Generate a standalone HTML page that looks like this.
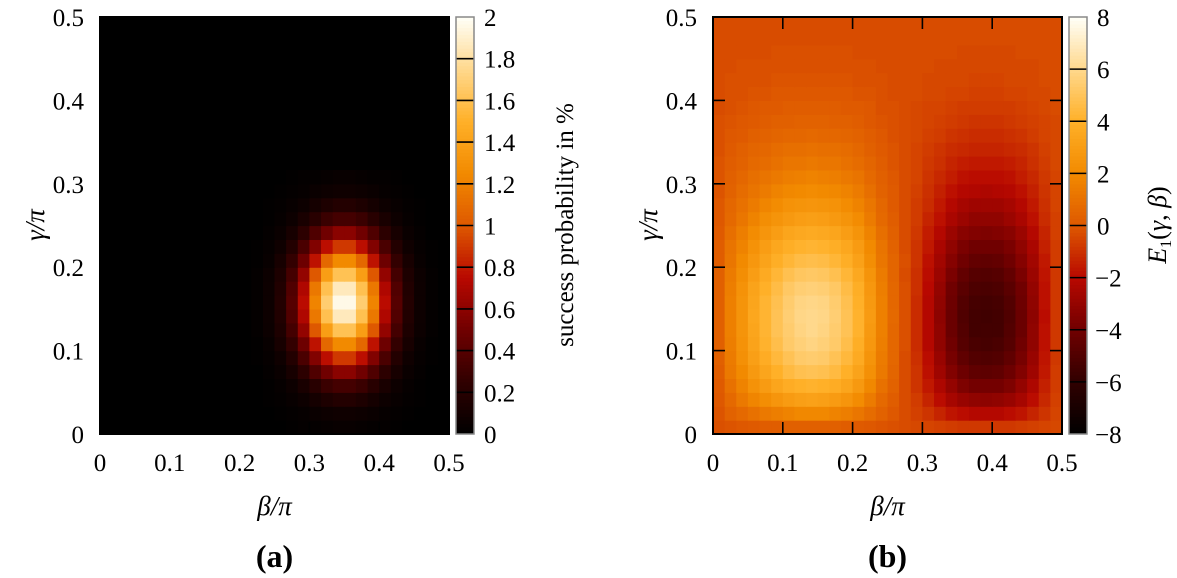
<!DOCTYPE html>
<html><head><meta charset="utf-8">
<style>
html,body{margin:0;padding:0;background:#fff;}
svg{display:block;font-family:"Liberation Serif","DejaVu Serif",serif;}
</style></head>
<body>
<svg id="fig" width="1177" height="578" viewBox="0 0 1177 578">
</svg>
<script>
// ---- data ----
const betaTicks = [0, 0.1, 0.2, 0.3, 0.4, 0.5];
const gammaTicks = [0, 0.1, 0.2, 0.3, 0.4, 0.5];
const probTicks = [0, 0.2, 0.4, 0.6, 0.8, 1, 1.2, 1.4, 1.6, 1.8, 2];
const energyTicks = [-8, -6, -4, -2, 0, 2, 4, 6, 8];
const nCols = 30, nRows = 30;
// panel (a): success probability (%), rows from gamma=0 (bottom) upward, sparse: columns 13..28
const probRows = [
 [0,0,0,.01,.02,.02,.03,.04,.04,.03,.02,.02,.01,0,0,0],
 [0,0,.01,.02,.03,.05,.07,.08,.08,.07,.05,.03,.02,.01,0,0],
 [0,.01,.02,.04,.07,.11,.15,.18,.18,.15,.11,.07,.04,.02,.01,0],
 [0,.01,.03,.07,.13,.21,.29,.33,.33,.29,.21,.13,.07,.03,.01,0],
 [0,.02,.05,.12,.23,.37,.5,.59,.59,.5,.37,.23,.12,.05,.02,0],
 [.01,.03,.08,.18,.35,.56,.77,.9,.9,.77,.56,.35,.18,.08,.03,.01],
 [.01,.04,.12,.26,.49,.78,1.08,1.25,1.25,1.08,.78,.49,.26,.12,.04,.01],
 [.02,.06,.15,.33,.62,1.0,1.38,1.61,1.61,1.38,1.0,.62,.33,.15,.06,.02],
 [.02,.07,.17,.38,.72,1.16,1.6,1.86,1.86,1.6,1.16,.72,.38,.17,.07,.02],
 [.02,.07,.18,.4,.76,1.22,1.68,1.96,1.96,1.68,1.22,.76,.4,.18,.07,.02],
 [.02,.07,.17,.38,.72,1.16,1.6,1.86,1.86,1.6,1.16,.72,.38,.17,.07,.02],
 [.02,.06,.15,.33,.62,1.0,1.38,1.61,1.61,1.38,1.0,.62,.33,.15,.06,.02],
 [.01,.04,.12,.26,.49,.78,1.08,1.25,1.25,1.08,.78,.49,.26,.12,.04,.01],
 [.01,.03,.08,.18,.35,.56,.77,.9,.9,.77,.56,.35,.18,.08,.03,.01],
 [0,.02,.05,.12,.23,.37,.5,.59,.59,.5,.37,.23,.12,.05,.02,0],
 [0,.01,.03,.07,.13,.21,.29,.33,.33,.29,.21,.13,.07,.03,.01,0],
 [0,.01,.02,.04,.07,.11,.15,.18,.18,.15,.11,.07,.04,.02,.01,0],
 [0,0,.01,.02,.03,.05,.07,.08,.08,.07,.05,.03,.02,.01,0,0],
 [0,0,0,.01,.02,.02,.03,.04,.04,.03,.02,.02,.01,0,0,0]
];
const probColStart = 13;
// panel (b): E1(gamma,beta), rows from gamma=0 (bottom) upward, 30 columns
const energyRows = [
 [-0.2,-0.1,0,0.1,0.2,0.2,0.3,0.3,0.3,0.3,0.3,0.2,0.1,0,-0.1,-0.2,-0.3,-0.4,-0.5,-0.6,-0.7,-0.8,-0.8,-0.8,-0.8,-0.8,-0.7,-0.6,-0.5,-0.4],
 [-0.1,0.4,0.7,1.0,1.3,1.5,1.7,1.9,1.9,1.9,1.7,1.5,1.2,0.8,0.4,0,-0.3,-0.6,-0.9,-1.3,-1.7,-1.9,-2.1,-2.1,-2.1,-1.9,-1.7,-1.3,-0.9,-0.5],
 [0,0.7,1.3,1.8,2.2,2.6,2.9,3.1,3.2,3.1,2.9,2.6,2.1,1.4,0.7,0.2,-0.3,-0.7,-1.3,-1.9,-2.5,-2.9,-3.1,-3.2,-3.1,-2.9,-2.5,-1.9,-1.2,-0.6],
 [0.1,1.0,1.7,2.4,2.9,3.4,3.8,4.0,4.1,4.0,3.8,3.4,2.8,1.9,1.0,0.4,-0.3,-0.9,-1.6,-2.3,-3.0,-3.6,-3.9,-3.9,-3.9,-3.6,-3.0,-2.3,-1.4,-0.7],
 [0.2,1.3,2.0,2.8,3.4,4.0,4.5,4.8,4.9,4.8,4.5,4.0,3.3,2.3,1.3,0.5,-0.3,-0.9,-1.8,-2.7,-3.5,-4.1,-4.5,-4.6,-4.5,-4.1,-3.5,-2.7,-1.6,-0.7],
 [0.3,1.4,2.3,3.1,3.8,4.4,4.9,5.3,5.4,5.3,4.9,4.4,3.7,2.5,1.4,0.6,-0.3,-1.0,-1.9,-2.9,-3.8,-4.5,-4.9,-5.0,-4.9,-4.5,-3.8,-2.9,-1.7,-0.8],
 [0.3,1.5,2.4,3.3,4.1,4.7,5.3,5.6,5.8,5.6,5.3,4.7,3.9,2.7,1.5,0.6,-0.2,-1.1,-2.1,-3.1,-4.0,-4.8,-5.2,-5.3,-5.2,-4.8,-4.0,-3.1,-1.8,-0.8],
 [0.3,1.6,2.5,3.4,4.2,4.9,5.4,5.8,6.0,5.8,5.4,4.9,4.1,2.8,1.6,0.6,-0.2,-1.1,-2.1,-3.1,-4.2,-4.9,-5.4,-5.4,-5.4,-4.9,-4.2,-3.1,-1.8,-0.8],
 [0.3,1.6,2.5,3.5,4.2,4.9,5.5,5.9,6.0,5.9,5.5,4.9,4.1,2.9,1.6,0.7,-0.2,-1.1,-2.1,-3.2,-4.2,-5.0,-5.4,-5.5,-5.4,-5.0,-4.2,-3.2,-1.9,-0.8],
 [0.3,1.6,2.5,3.4,4.2,4.8,5.4,5.8,5.9,5.8,5.4,4.8,4.0,2.8,1.6,0.6,-0.2,-1.1,-2.1,-3.1,-4.1,-4.9,-5.3,-5.4,-5.3,-4.9,-4.1,-3.1,-1.8,-0.8],
 [0.3,1.5,2.4,3.3,4.0,4.6,5.2,5.5,5.6,5.5,5.2,4.6,3.9,2.7,1.5,0.6,-0.2,-1.0,-2.0,-3.0,-4.0,-4.7,-5.1,-5.2,-5.1,-4.7,-4.0,-3.0,-1.8,-0.8],
 [0.3,1.4,2.2,3.0,3.7,4.3,4.8,5.1,5.2,5.1,4.8,4.3,3.6,2.5,1.4,0.5,-0.3,-1.0,-1.9,-2.8,-3.7,-4.4,-4.8,-4.9,-4.8,-4.4,-3.7,-2.8,-1.7,-0.8],
 [0.2,1.2,2.0,2.7,3.3,3.9,4.3,4.6,4.7,4.6,4.3,3.9,3.2,2.2,1.2,0.5,-0.2,-0.9,-1.8,-2.6,-3.4,-4.0,-4.4,-4.5,-4.4,-4.0,-3.4,-2.6,-1.6,-0.7],
 [0.2,1.1,1.7,2.4,3.0,3.5,3.9,4.1,4.2,4.1,3.9,3.5,2.9,2.0,1.1,0.4,-0.3,-0.9,-1.6,-2.4,-3.1,-3.7,-4.0,-4.0,-4.0,-3.7,-3.1,-2.4,-1.4,-0.7],
 [0.1,0.9,1.5,2.1,2.6,3.0,3.4,3.6,3.7,3.6,3.4,3.0,2.5,1.7,0.9,0.3,-0.3,-0.8,-1.5,-2.1,-2.8,-3.3,-3.5,-3.6,-3.5,-3.3,-2.8,-2.1,-1.3,-0.6],
 [0,0.7,1.2,1.7,2.2,2.5,2.8,3.0,3.1,3.0,2.8,2.5,2.1,1.4,0.7,0.2,-0.3,-0.7,-1.3,-1.8,-2.4,-2.8,-3.1,-3.1,-3.1,-2.8,-2.4,-1.8,-1.1,-0.6],
 [0,0.6,1.0,1.4,1.8,2.1,2.4,2.5,2.6,2.5,2.4,2.1,1.7,1.2,0.6,0.1,-0.3,-0.7,-1.1,-1.6,-2.1,-2.5,-2.7,-2.7,-2.7,-2.5,-2.1,-1.6,-1.0,-0.5],
 [-0.1,0.4,0.8,1.1,1.4,1.7,1.9,2.0,2.1,2.0,1.9,1.7,1.4,0.9,0.4,0.1,-0.3,-0.6,-1.0,-1.4,-1.8,-2.1,-2.2,-2.3,-2.2,-2.1,-1.8,-1.4,-0.9,-0.5],
 [-0.1,0.3,0.6,0.9,1.1,1.3,1.5,1.6,1.7,1.6,1.5,1.3,1.1,0.7,0.3,0,-0.3,-0.5,-0.9,-1.2,-1.5,-1.8,-1.9,-1.9,-1.9,-1.8,-1.5,-1.2,-0.8,-0.5],
 [-0.1,0.2,0.4,0.7,0.8,1.0,1.2,1.2,1.3,1.2,1.2,1.0,0.8,0.5,0.2,-0.1,-0.3,-0.5,-0.8,-1.0,-1.3,-1.5,-1.6,-1.6,-1.6,-1.5,-1.3,-1.0,-0.7,-0.4],
 [-0.2,0.1,0.3,0.5,0.6,0.8,0.9,0.9,1.0,0.9,0.9,0.8,0.6,0.3,0.1,-0.1,-0.3,-0.5,-0.7,-0.9,-1.1,-1.2,-1.3,-1.3,-1.3,-1.2,-1.1,-0.9,-0.6,-0.4],
 [-0.2,0,0.1,0.3,0.4,0.5,0.6,0.6,0.7,0.6,0.6,0.5,0.4,0.2,0,-0.2,-0.3,-0.4,-0.6,-0.7,-0.9,-1.0,-1.1,-1.1,-1.1,-1.0,-0.9,-0.7,-0.5,-0.4],
 [-0.2,-0.1,0,0.1,0.2,0.3,0.3,0.4,0.4,0.4,0.3,0.3,0.2,0,-0.1,-0.2,-0.3,-0.4,-0.5,-0.6,-0.7,-0.8,-0.9,-0.9,-0.9,-0.8,-0.7,-0.6,-0.5,-0.4],
 [-0.3,-0.2,-0.1,0,0.1,0.1,0.2,0.2,0.2,0.2,0.2,0.1,0.1,0,-0.2,-0.2,-0.3,-0.4,-0.5,-0.5,-0.6,-0.7,-0.7,-0.7,-0.7,-0.7,-0.6,-0.5,-0.4,-0.3],
 [-0.3,-0.2,-0.2,-0.1,-0.1,0,0,0,0,0,0,0,-0.1,-0.1,-0.2,-0.3,-0.3,-0.3,-0.4,-0.4,-0.5,-0.5,-0.6,-0.6,-0.6,-0.5,-0.5,-0.4,-0.4,-0.3],
 [-0.3,-0.2,-0.2,-0.2,-0.2,-0.1,-0.1,-0.1,-0.1,-0.1,-0.1,-0.1,-0.2,-0.2,-0.2,-0.3,-0.3,-0.3,-0.4,-0.4,-0.4,-0.4,-0.5,-0.5,-0.5,-0.4,-0.4,-0.4,-0.3,-0.3],
 [-0.3,-0.3,-0.2,-0.2,-0.2,-0.2,-0.2,-0.2,-0.2,-0.2,-0.2,-0.2,-0.2,-0.2,-0.3,-0.3,-0.3,-0.3,-0.3,-0.4,-0.4,-0.4,-0.4,-0.4,-0.4,-0.4,-0.4,-0.4,-0.3,-0.3],
 [-0.3,-0.3,-0.3,-0.3,-0.3,-0.2,-0.2,-0.2,-0.2,-0.2,-0.2,-0.2,-0.3,-0.3,-0.3,-0.3,-0.3,-0.3,-0.3,-0.3,-0.3,-0.4,-0.4,-0.4,-0.4,-0.4,-0.3,-0.3,-0.3,-0.3],
 [-0.3,-0.3,-0.3,-0.3,-0.3,-0.3,-0.3,-0.3,-0.3,-0.3,-0.3,-0.3,-0.3,-0.3,-0.3,-0.3,-0.3,-0.3,-0.3,-0.3,-0.3,-0.3,-0.3,-0.3,-0.3,-0.3,-0.3,-0.3,-0.3,-0.3],
 [-0.3,-0.3,-0.3,-0.3,-0.3,-0.3,-0.3,-0.3,-0.3,-0.3,-0.3,-0.3,-0.3,-0.3,-0.3,-0.3,-0.3,-0.3,-0.3,-0.3,-0.3,-0.3,-0.3,-0.3,-0.3,-0.3,-0.3,-0.3,-0.3,-0.3]
];

// ---- rendering ----
const NS = 'http://www.w3.org/2000/svg';
const svg = document.getElementById('fig');
function mk(tag, attrs, parent, text) {
  const e = document.createElementNS(NS, tag);
  for (const k in attrs) e.setAttribute(k, attrs[k]);
  if (text !== undefined) e.textContent = text;
  (parent || svg).appendChild(e);
  return e;
}
const stops = [[0,[0,0,0]],[0.125,[48,0,0]],[0.25,[112,0,0]],[0.375,[184,8,0]],[0.5,[222,88,0]],[0.625,[242,138,0]],[0.75,[255,176,40]],[0.875,[255,216,140]],[1,[255,255,248]]];
function cmap(t) {
  t = Math.max(0, Math.min(1, t));
  for (let i = 1; i < stops.length; i++) {
    if (t <= stops[i][0]) {
      const a = stops[i-1], b = stops[i], f = (t - a[0]) / (b[0] - a[0]);
      const c = a[1].map((v, k) => Math.round(v + (b[1][k] - v) * f));
      return 'rgb(' + c.join(',') + ')';
    }
  }
  return 'rgb(255,255,248)';
}
const Y0 = 434, Y1 = 17;
function panel(cfg) {
  const g = mk('g', {});
  
  
  const xs = v => cfg.x0 + (v / 0.5) * (cfg.x1 - cfg.x0);
  const ys = v => Y0 - (v / 0.5) * (Y0 - Y1);
  const cw = (cfg.x1 - cfg.x0) / nCols, ch = (Y0 - Y1) / nRows;
  const hm = mk('g', {}, g);
  
  
  const bg = mk('rect', {x: cfg.x0, y: Y1, width: cfg.x1 - cfg.x0, height: Y0 - Y1, fill: cmap(cfg.norm(cfg.bgVal))}, hm);
  
  
  for (let r = 0; r < nRows; r++) {
    const row = cfg.rows[r] || [];
    for (let i = 0; i < row.length; i++) {
      const c = i + cfg.colStart;
      const cell = mk('rect', {x: (xs(c * 0.5 / nCols)).toFixed(2), y: (ys((r + 1) * 0.5 / nRows)).toFixed(2), width: (cw + 0.6).toFixed(2), height: (ch + 0.6).toFixed(2), fill: cmap(cfg.norm(row[i]))}, hm);
      
      
    }
  }
  // ticks
  betaTicks.forEach(v => {
    const x = xs(v);
    if (v > 0 && v < 0.5) {
      mk('line', {x1: x, y1: Y0, x2: x, y2: Y0 - 12, stroke: '#000', 'stroke-width': 1.6}, g);
      mk('line', {x1: x, y1: Y1, x2: x, y2: Y1 + 12, stroke: '#000', 'stroke-width': 1.6}, g);
    }
    const t = mk('text', {x: x, y: 471, 'font-size': 25, 'text-anchor': 'middle'}, g, String(v));
    
    
  });
  gammaTicks.forEach(v => {
    const y = ys(v);
    if (v > 0 && v < 0.5) {
      mk('line', {x1: cfg.x0, y1: y, x2: cfg.x0 + 12, y2: y, stroke: '#000', 'stroke-width': 1.6}, g);
      mk('line', {x1: cfg.x1, y1: y, x2: cfg.x1 - 12, y2: y, stroke: '#000', 'stroke-width': 1.6}, g);
    }
    const t = mk('text', {x: cfg.x0 - 16, y: y + 9, 'font-size': 25, 'text-anchor': 'end'}, g, String(v));
    
    
  });
  const fr = mk('rect', {x: cfg.x0, y: Y1, width: cfg.x1 - cfg.x0, height: Y0 - Y1, fill: 'none', stroke: '#000', 'stroke-width': 2}, g);
  
  
  const xl = mk('text', {x: (cfg.x0 + cfg.x1) / 2, y: 515, 'font-size': 27, 'text-anchor': 'middle', 'font-style': 'italic'}, g, 'β/π');
  
  
  const yl = mk('text', {x: 0, y: 0, 'font-size': 27, 'text-anchor': 'middle', 'font-style': 'italic', transform: 'translate(' + (cfg.x0 - 56) + ',225) rotate(-90)'}, g, 'γ/π');
  
  
  const pl = mk('text', {x: (cfg.x0 + cfg.x1) / 2, y: 567, 'font-size': 32, 'font-weight': 'bold', 'text-anchor': 'middle'}, g, cfg.label);
  
  
  // colorbar
  const cb = mk('g', {}, g);
  
  
  const cx0 = cfg.cbx, cwid = 18, steps = 120;
  for (let s = 0; s < steps; s++) {
    const t = (s + 0.5) / steps;
    mk('rect', {x: cx0, y: Y0 - (s + 1) * (Y0 - Y1) / steps, width: cwid, height: (Y0 - Y1) / steps + 0.5, fill: cmap(t)}, cb);
  }
  cfg.cbTicks.forEach(v => {
    const y = Y0 - cfg.norm(v) * (Y0 - Y1);
    if (cfg.norm(v) > 0 && cfg.norm(v) < 1) mk('line', {x1: cx0, y1: y, x2: cx0 + cwid, y2: y, stroke: '#000', 'stroke-width': 1.6}, cb);
    const lab = v < 0 ? '\u2212' + Math.abs(v) : String(v);
    const t = mk('text', {x: cx0 + cwid + (v < 0 ? 8 : 10), y: y + 9, 'font-size': 25}, cb, lab);
    
    
  });
  mk('rect', {x: cx0, y: Y1, width: cwid, height: Y0 - Y1, fill: 'none', stroke: '#888', 'stroke-width': 1.5}, cb);
  const ct = mk('text', {x: 0, y: 0, 'font-size': 25, 'text-anchor': 'middle', transform: 'translate(' + cfg.cbTitleX + ',225) rotate(-90)'}, cb);
  
  
  cfg.cbTitle(ct);
}
panel({name: 'panel-a-success-probability', x0: 100, x1: 449, rows: probRows, colStart: probColStart, bgVal: 0,
  norm: v => v / 2, cbx: 456, cbTicks: probTicks, cbTitleX: 573, label: '(a)',
  cbTitle: el => { el.textContent = 'success probability in %'; }});
panel({name: 'panel-b-energy', x0: 713, x1: 1062, rows: energyRows, colStart: 0, bgVal: -0.3,
  norm: v => (v + 8) / 16, cbx: 1069, cbTicks: energyTicks, cbTitleX: 1166, label: '(b)',
  cbTitle: el => {
    mk('tspan', {'font-style': 'italic', 'font-size': 26}, el, 'E');
    mk('tspan', {'font-size': 16, dy: 5}, el, '1');
    mk('tspan', {'font-size': 26, dy: -5}, el, '(');
    mk('tspan', {'font-style': 'italic', 'font-size': 26}, el, 'γ');
    mk('tspan', {'font-size': 26}, el, ', ');
    mk('tspan', {'font-style': 'italic', 'font-size': 26}, el, 'β');
    mk('tspan', {'font-size': 26}, el, ')');
  }});
</script>
</body></html>
